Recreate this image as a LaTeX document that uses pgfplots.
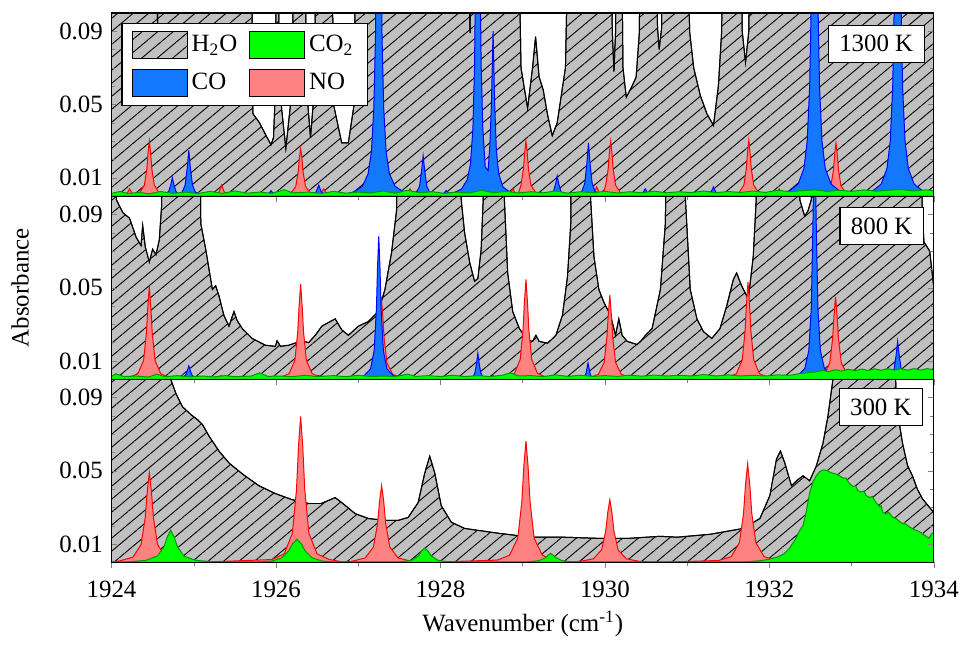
\documentclass[border=0pt]{standalone}
\usepackage{fontspec}
\setmainfont{Liberation Serif}
\usepackage{pgfplots}
\pgfplotsset{compat=1.18}
\usepgfplotslibrary{groupplots}
\usetikzlibrary{patterns.meta,calc}

\definecolor{h2ogray}{RGB}{192,192,192}
\definecolor{co2fill}{RGB}{0,255,0}
\definecolor{co2line}{RGB}{0,150,0}
\definecolor{cofill}{RGB}{20,120,255}
\definecolor{coline}{RGB}{0,0,255}
\definecolor{nofill}{RGB}{255,130,130}
\definecolor{noline}{RGB}{255,0,0}

\tikzset{
  h2o/.style={fill=h2ogray, draw=black, line width=0.5pt,
    postaction={pattern={Lines[angle=40,distance=5pt,line width=0.45pt]}}},
  co2/.style={fill=co2fill, draw=co2line, line width=0.5pt},
  co/.style={fill=cofill, draw=coline, line width=0.5pt},
  no/.style={fill=nofill, draw=noline, line width=0.5pt},
}

\begin{document}
\fontsize{12.5}{15}\selectfont
\begin{tikzpicture}
\begin{groupplot}[
  group style={group size=1 by 3, vertical sep=0pt, group name=G,
    xticklabels at=edge bottom},
  width=413pt, height=92pt, scale only axis,
  xmin=1924, xmax=1934, ymin=0, ymax=0.1,
  xtick={1924,1926,1928,1930,1932,1934},
  xticklabels={1924,1926,1928,1930,1932,1934},
  minor xtick={1925,1927,1929,1931,1933},
  ytick={0.01,0.05,0.09}, yticklabels={0.01,0.05,0.09},
  minor ytick={0.02,0.03,0.04,0.06,0.07,0.08},
  tick align=inside, major tick length=3pt, minor tick length=2pt,
  xtick pos=left,
  major x tick style={yshift=-3pt},
  minor x tick style={yshift=-2pt},
  xticklabel style={yshift=-5pt},
  axis on top, no markers,
  axis line style={line width=0.6pt},
  legend image code/.code={\draw[#1] (0pt,-6.75pt) rectangle (27.5pt,6.75pt);},
]

% ---------------- 1300 K ----------------
\nextgroupplot[
  legend columns=2,
  legend cell align=left,
  legend style={at={(0.0121,0.947)}, anchor=north west, draw=black,
    line width=0.6pt, fill=white, inner xsep=5pt, inner ysep=4pt,
    row sep=5pt,
    /tikz/every even column/.append style={column sep=4pt}},
]
\addlegendimage{h2o}
\addlegendentry{H\textsubscript{2}O}
\addlegendimage{co2, draw=black}
\addlegendentry{CO\textsubscript{2}}
\addlegendimage{co, draw=black}
\addlegendentry{CO}
\addlegendimage{no, draw=black}
\addlegendentry{NO}

\addplot[h2o, forget plot] coordinates {
(1924.00,0.2) (1924.54,0.2) (1924.56,0.093) (1924.58,0.2)
(1925.69,0.2) (1925.72,0.045) (1925.80,0.040) (1925.88,0.033) (1925.94,0.028) (1925.97,0.032) (1925.995,0.06) (1926.005,0.2)
(1926.025,0.2) (1926.04,0.06) (1926.12,0.026) (1926.20,0.06) (1926.22,0.2)
(1926.35,0.2) (1926.37,0.06) (1926.42,0.032) (1926.47,0.06) (1926.49,0.2)
(1926.67,0.2) (1926.70,0.05) (1926.80,0.029) (1926.88,0.029) (1926.95,0.05) (1926.98,0.2)
(1928.31,0.2) (1928.36,0.089) (1928.40,0.2)
(1928.93,0.2) (1928.98,0.07) (1929.06,0.048) (1929.12,0.07) (1929.157,0.087) (1929.20,0.065) (1929.25,0.058) (1929.30,0.045) (1929.36,0.033) (1929.42,0.04) (1929.52,0.07) (1929.58,0.2)
(1930.07,0.2) (1930.09,0.09) (1930.11,0.068) (1930.13,0.09) (1930.15,0.2)
(1930.19,0.2) (1930.22,0.07) (1930.26,0.054) (1930.33,0.06) (1930.38,0.065) (1930.42,0.09) (1930.43,0.2)
(1930.61,0.2) (1930.64,0.092) (1930.66,0.08) (1930.69,0.092) (1930.71,0.2)
(1931.00,0.2) (1931.03,0.09) (1931.08,0.07) (1931.16,0.055) (1931.24,0.045) (1931.32,0.0386) (1931.38,0.06) (1931.42,0.09) (1931.44,0.2)
(1931.64,0.2) (1931.67,0.09) (1931.71,0.073) (1931.75,0.09) (1931.78,0.2) (1934.00,0.2)
} \closedcycle;

\addplot[no, forget plot] coordinates {
(1924.00,0) (1924.12,0) (1924.19,0.0016) (1924.22,0.004) (1924.25,0.0016) (1924.32,0)
(1924.34,0.0018) (1924.40,0.006) (1924.43,0.015) (1924.445,0.024) (1924.46,0.030) (1924.475,0.024) (1924.49,0.015) (1924.52,0.006) (1924.58,0.0018) (1924.68,0)
(1925.24,0) (1925.31,0.0024) (1925.34,0.006) (1925.37,0.0024) (1925.44,0)
(1926.08,0) (1926.18,0.0015) (1926.24,0.0052) (1926.27,0.013) (1926.285,0.021) (1926.30,0.026) (1926.315,0.021) (1926.33,0.013) (1926.36,0.0052) (1926.42,0.0015) (1926.50,0)
(1926.52,0) (1926.55,0.0016) (1926.58,0.004) (1926.61,0.0016) (1926.68,0)
(1927.06,0) (1927.16,0.0015) (1927.22,0.005) (1927.25,0.0125) (1927.265,0.02) (1927.28,0.025) (1927.295,0.02) (1927.31,0.0125) (1927.34,0.005) (1927.40,0.0015) (1927.50,0)
(1927.53,0) (1927.60,0.0016) (1927.63,0.004) (1927.66,0.0016) (1927.73,0)
(1928.80,0) (1928.85,0.0016) (1928.88,0.004) (1928.91,0.0016) (1928.94,0.0005)
(1928.98,0.006) (1929.01,0.015) (1929.025,0.024) (1929.04,0.030) (1929.055,0.024) (1929.07,0.015) (1929.10,0.006) (1929.16,0.0018) (1929.26,0)
(1929.80,0) (1929.87,0.002) (1929.90,0.005) (1929.93,0.002) (1929.96,0.0015)
(1929.99,0.003) (1930.01,0.006) (1930.04,0.015) (1930.055,0.024) (1930.07,0.030) (1930.085,0.024) (1930.10,0.015) (1930.13,0.006) (1930.19,0.0018) (1930.29,0)
(1931.53,0) (1931.63,0.0018) (1931.69,0.006) (1931.72,0.015) (1931.735,0.024) (1931.75,0.0305) (1931.765,0.024) (1931.78,0.015) (1931.81,0.006) (1931.87,0.0018) (1931.97,0)
(1932.02,0) (1932.09,0.0016) (1932.12,0.004) (1932.15,0.0016) (1932.22,0)
(1932.59,0) (1932.69,0.0017) (1932.75,0.0058) (1932.78,0.0145) (1932.795,0.023) (1932.81,0.029) (1932.825,0.023) (1932.84,0.0145) (1932.87,0.0058) (1932.93,0.0017) (1933.03,0)
(1934.00,0)
} \closedcycle;

\addplot[co, forget plot] coordinates {
(1924.00,0) (1924.59,0) (1924.66,0.0009) (1924.695,0.0024) (1924.72,0.006) (1924.74,0.010) (1924.76,0.006) (1924.785,0.0024) (1924.82,0.0009)
(1924.86,0.0022) (1924.895,0.006) (1924.92,0.015) (1924.94,0.025) (1924.96,0.015) (1924.985,0.006) (1925.02,0.0022) (1925.09,0.0008) (1925.20,0)
(1925.86,0) (1925.91,0.0012) (1925.94,0.003) (1925.97,0.0012) (1926.02,0)
(1926.43,0) (1926.49,0.0024) (1926.52,0.006) (1926.55,0.0024) (1926.61,0)
(1926.85,0.001) (1926.95,0.0024) (1927.05,0.0053) (1927.12,0.0121) (1927.16,0.024) (1927.19,0.048) (1927.21,0.0864) (1927.23,0.166) (1927.25,0.24) (1927.27,0.166) (1927.29,0.0864) (1927.31,0.048) (1927.34,0.024) (1927.38,0.0121) (1927.45,0.0053) (1927.55,0.0024) (1927.65,0.0012)
(1927.71,0.002) (1927.745,0.0053) (1927.77,0.0134) (1927.79,0.022) (1927.81,0.0134) (1927.835,0.0053) (1927.87,0.002)
(1927.95,0.001) (1928.04,0.0015) (1928.07,0.003) (1928.10,0.0018)
(1928.155,0.0017) (1928.255,0.0038) (1928.325,0.0089) (1928.365,0.0174) (1928.395,0.037) (1928.415,0.072) (1928.435,0.152) (1928.455,0.25) (1928.475,0.152) (1928.495,0.072) (1928.515,0.037) (1928.545,0.016) (1928.58,0.014)
(1928.60,0.027) (1928.62,0.05) (1928.64,0.09) (1928.66,0.05) (1928.68,0.025) (1928.71,0.012) (1928.76,0.005) (1928.85,0.002) (1928.95,0.0008) (1929.05,0)
(1929.30,0) (1929.34,0.001) (1929.375,0.0026) (1929.40,0.0066) (1929.42,0.011) (1929.44,0.0066) (1929.465,0.0026) (1929.50,0.001) (1929.58,0)
(1929.65,0) (1929.72,0.0026) (1929.755,0.007) (1929.78,0.0175) (1929.80,0.029) (1929.82,0.0175) (1929.845,0.007) (1929.88,0.0026) (1929.95,0.0009) (1930.05,0)
(1930.40,0) (1930.46,0.0016) (1930.49,0.004) (1930.52,0.0016) (1930.58,0)
(1931.23,0) (1931.29,0.002) (1931.32,0.005) (1931.35,0.002) (1931.41,0)
(1932.15,0.001) (1932.25,0.003) (1932.35,0.0066) (1932.42,0.0151) (1932.46,0.03) (1932.49,0.06) (1932.51,0.108) (1932.53,0.2077) (1932.55,0.3) (1932.57,0.2077) (1932.59,0.108) (1932.61,0.06) (1932.64,0.03) (1932.68,0.0151) (1932.75,0.0066) (1932.85,0.003) (1932.95,0.001) (1933.05,0.0005)
(1933.16,0.0015) (1933.26,0.003) (1933.36,0.0066) (1933.43,0.0151) (1933.47,0.03) (1933.50,0.06) (1933.52,0.108) (1933.54,0.2077) (1933.56,0.3) (1933.58,0.2077) (1933.60,0.108) (1933.62,0.06) (1933.65,0.03) (1933.69,0.0151) (1933.76,0.0066) (1933.86,0.003) (1933.96,0.001) (1934.00,0)
} \closedcycle;

\addplot[co2, forget plot] coordinates {
(1924,0.0015) (1924.1,0.0025) (1924.2,0.0015) (1924.35,0.002) (1924.45,0.0012) (1924.6,0.0025) (1924.75,0.0015) (1924.9,0.0022) (1925.05,0.0014) (1925.2,0.0026) (1925.35,0.0015) (1925.5,0.0028) (1925.65,0.0016) (1925.8,0.0022) (1925.95,0.0015) (1926.1,0.0035) (1926.2,0.0018) (1926.4,0.0022) (1926.55,0.0014) (1926.7,0.0026) (1926.85,0.0016) (1927.0,0.0022) (1927.15,0.0017) (1927.3,0.0028) (1927.45,0.0016) (1927.6,0.0032) (1927.75,0.0018) (1927.9,0.0024) (1928.05,0.0015) (1928.2,0.0022) (1928.35,0.0017) (1928.5,0.0032) (1928.65,0.0018) (1928.8,0.0026) (1928.95,0.0017) (1929.1,0.0024) (1929.25,0.0018) (1929.4,0.0028) (1929.55,0.0016) (1929.7,0.0024) (1929.85,0.0018) (1930.0,0.0026) (1930.15,0.0017) (1930.3,0.0024) (1930.45,0.0018) (1930.6,0.0027) (1930.75,0.0018) (1930.9,0.0024) (1931.05,0.0019) (1931.2,0.0028) (1931.35,0.0019) (1931.5,0.0025) (1931.65,0.002) (1931.8,0.0028) (1931.95,0.002) (1932.1,0.0032) (1932.25,0.0024) (1932.4,0.003) (1932.55,0.0034) (1932.7,0.0026) (1932.85,0.0032) (1933.0,0.0026) (1933.15,0.0034) (1933.3,0.0027) (1933.45,0.0032) (1933.6,0.0036) (1933.75,0.0028) (1933.9,0.0034) (1934,0.003)
} \closedcycle;

\node[draw=black, fill=white, line width=0.6pt, anchor=north east, inner xsep=5.5pt, inner ysep=5pt]
  at (rel axis cs:0.989,0.935) {1300 K};

% ---------------- 800 K ----------------
\nextgroupplot[ylabel={Absorbance},
  ylabel style={at={(axis description cs:-0.111,0.5)}, anchor=center}]

\addplot[h2o, forget plot] coordinates {
(1924.0,0.2) (1924.04,0.2) (1924.06,0.098) (1924.137,0.091) (1924.218,0.088) (1924.258,0.083) (1924.299,0.0776) (1924.359,0.073) (1924.379,0.084) (1924.412,0.072) (1924.46,0.064) (1924.50,0.071) (1924.541,0.068) (1924.581,0.076) (1924.61,0.095) (1924.625,0.2)
(1925.06,0.2) (1925.086,0.085) (1925.146,0.071) (1925.186,0.060) (1925.227,0.049) (1925.267,0.051) (1925.307,0.0455) (1925.368,0.0347) (1925.429,0.029) (1925.489,0.037) (1925.529,0.032) (1925.59,0.0277) (1925.711,0.0223) (1925.872,0.0186) (1925.993,0.018) (1926.013,0.021) (1926.054,0.018) (1926.155,0.0186) (1926.316,0.021) (1926.397,0.020) (1926.478,0.024) (1926.558,0.029) (1926.72,0.033) (1926.80,0.027) (1926.881,0.024) (1927.002,0.029) (1927.123,0.0315) (1927.245,0.037) (1927.325,0.049) (1927.405,0.069) (1927.466,0.092) (1927.50,0.2)
(1928.24,0.2) (1928.253,0.098) (1928.294,0.080) (1928.355,0.064) (1928.415,0.0535) (1928.455,0.055) (1928.495,0.0707) (1928.52,0.098) (1928.53,0.2)
(1928.77,0.2) (1928.778,0.098) (1928.818,0.058) (1928.879,0.037) (1928.96,0.0277) (1929.06,0.0213) (1929.12,0.0207) (1929.161,0.024) (1929.20,0.0207) (1929.303,0.0197) (1929.404,0.024) (1929.484,0.035) (1929.545,0.056) (1929.585,0.085) (1929.60,0.2)
(1929.82,0.2) (1929.827,0.098) (1929.867,0.067) (1929.927,0.049) (1929.988,0.042) (1930.068,0.035) (1930.129,0.024) (1930.169,0.033) (1930.21,0.024) (1930.271,0.0207) (1930.392,0.019) (1930.44,0.021) (1930.493,0.024) (1930.574,0.0277) (1930.675,0.049) (1930.735,0.085) (1930.77,0.2)
(1930.97,0.2) (1930.98,0.098) (1931.038,0.049) (1931.119,0.033) (1931.199,0.026) (1931.30,0.0223) (1931.40,0.0277) (1931.481,0.040) (1931.562,0.0545) (1931.602,0.058) (1931.663,0.051) (1931.744,0.0438) (1931.804,0.067) (1931.84,0.098) (1931.85,0.2)
(1932.36,0.2) (1932.37,0.098) (1932.43,0.089) (1932.47,0.092) (1932.51,0.098) (1932.52,0.2)
(1933.84,0.2) (1933.86,0.09) (1933.88,0.075) (1933.95,0.07) (1934.0,0.05)
} \closedcycle;

\addplot[no, forget plot] coordinates {
(1924.00,0) (1924.21,0.001) (1924.32,0.003) (1924.39,0.0102) (1924.425,0.0255) (1924.44,0.038) (1924.46,0.051) (1924.48,0.038) (1924.495,0.0255) (1924.53,0.0102) (1924.60,0.003) (1924.71,0.001) (1924.85,0)
(1925.25,0) (1925.33,0.002) (1925.41,0)
(1926.05,0.001) (1926.16,0.0031) (1926.23,0.0104) (1926.265,0.026) (1926.28,0.039) (1926.30,0.052) (1926.32,0.039) (1926.335,0.026) (1926.37,0.0104) (1926.44,0.0031) (1926.55,0.001) (1926.70,0)
(1927.03,0.0009) (1927.14,0.0027) (1927.21,0.009) (1927.245,0.0225) (1927.26,0.034) (1927.28,0.045) (1927.30,0.034) (1927.315,0.0225) (1927.35,0.009) (1927.42,0.0027) (1927.53,0.0009) (1927.68,0)
(1928.79,0.001) (1928.90,0.0032) (1928.97,0.0109) (1929.005,0.0273) (1929.02,0.041) (1929.04,0.0545) (1929.06,0.041) (1929.075,0.0273) (1929.11,0.0109) (1929.18,0.0032) (1929.29,0.001) (1929.45,0)
(1929.81,0.0009) (1929.92,0.0027) (1929.99,0.0092) (1930.025,0.023) (1930.04,0.0345) (1930.06,0.046) (1930.08,0.0345) (1930.095,0.023) (1930.13,0.0092) (1930.20,0.0027) (1930.31,0.0009) (1930.45,0)
(1931.49,0.001) (1931.60,0.0031) (1931.67,0.0106) (1931.705,0.0265) (1931.72,0.04) (1931.74,0.053) (1931.76,0.04) (1931.775,0.0265) (1931.81,0.0106) (1931.88,0.0031) (1931.99,0.001) (1932.15,0)
(1932.555,0.0009) (1932.665,0.0027) (1932.735,0.009) (1932.77,0.0225) (1932.785,0.034) (1932.805,0.045) (1932.825,0.034) (1932.84,0.0225) (1932.875,0.009) (1932.945,0.0027) (1933.055,0.0009) (1933.20,0)
(1934.00,0)
} \closedcycle;

\addplot[co, forget plot] coordinates {
(1924.00,0) (1924.84,0) (1924.90,0.0022) (1924.92,0.0045) (1924.94,0.0073) (1924.96,0.0045) (1924.98,0.0022) (1925.04,0)
(1926.46,0) (1926.52,0.002) (1926.58,0)
(1926.95,0.0007) (1927.07,0.0019) (1927.15,0.0057) (1927.194,0.0156) (1927.222,0.039) (1927.235,0.061) (1927.25,0.078) (1927.265,0.061) (1927.278,0.039) (1927.306,0.0156) (1927.35,0.0057) (1927.43,0.0019) (1927.55,0.0007) (1927.65,0)
(1928.35,0) (1928.395,0.0013) (1928.42,0.0036) (1928.44,0.009) (1928.455,0.0143) (1928.47,0.009) (1928.49,0.0036) (1928.515,0.0013) (1928.56,0)
(1928.60,0) (1928.64,0.002) (1928.68,0)
(1929.70,0) (1929.74,0.0008) (1929.765,0.0022) (1929.78,0.0055) (1929.795,0.0089) (1929.81,0.0055) (1929.825,0.0022) (1929.85,0.0008) (1929.89,0)
(1931.27,0) (1931.32,0.002) (1931.37,0)
(1932.25,0.001) (1932.35,0.0022) (1932.43,0.0058) (1932.48,0.0158) (1932.51,0.039) (1932.53,0.085) (1932.55,0.14) (1932.57,0.085) (1932.59,0.039) (1932.62,0.0158) (1932.67,0.0058) (1932.75,0.0022) (1932.85,0.001) (1932.95,0)
(1933.44,0) (1933.48,0.0019) (1933.515,0.005) (1933.54,0.0126) (1933.56,0.0207) (1933.58,0.0126) (1933.605,0.005) (1933.64,0.0019) (1933.70,0)
(1934.00,0)
} \closedcycle;

\addplot[co2, forget plot] coordinates {
(1924,0.0015) (1924.05,0.003) (1924.15,0.0015) (1924.3,0.0018) (1924.45,0.0012) (1924.55,0.0028) (1924.65,0.0014) (1924.8,0.002) (1924.95,0.0013) (1925.1,0.0018) (1925.25,0.0013) (1925.38,0.002) (1925.5,0.0014) (1925.7,0.0018) (1925.8,0.0035) (1925.9,0.0016) (1926.05,0.0018) (1926.2,0.0014) (1926.35,0.0022) (1926.5,0.0015) (1926.7,0.002) (1926.85,0.0014) (1927.0,0.0022) (1927.15,0.0015) (1927.3,0.0018) (1927.45,0.0015) (1927.6,0.0028) (1927.7,0.0016) (1927.85,0.002) (1928.0,0.0015) (1928.15,0.0022) (1928.3,0.0015) (1928.45,0.002) (1928.6,0.0015) (1928.75,0.0022) (1928.85,0.0035) (1928.95,0.0018) (1929.1,0.002) (1929.25,0.0015) (1929.4,0.0024) (1929.55,0.0016) (1929.7,0.0022) (1929.85,0.0016) (1930.0,0.002) (1930.15,0.0016) (1930.3,0.0022) (1930.45,0.0017) (1930.6,0.0023) (1930.75,0.0018) (1930.9,0.0022) (1931.05,0.0018) (1931.2,0.0026) (1931.35,0.0018) (1931.5,0.0024) (1931.65,0.0018) (1931.8,0.0022) (1931.95,0.0018) (1932.1,0.0024) (1932.25,0.0022) (1932.35,0.003) (1932.45,0.0035) (1932.55,0.004) (1932.65,0.0048) (1932.72,0.0042) (1932.8,0.0052) (1932.88,0.0045) (1932.96,0.0055) (1933.04,0.0047) (1933.12,0.0056) (1933.2,0.0048) (1933.28,0.0057) (1933.36,0.0049) (1933.44,0.0058) (1933.52,0.005) (1933.6,0.0058) (1933.68,0.005) (1933.76,0.0058) (1933.84,0.005) (1933.92,0.0058) (1934,0.0052)
} \closedcycle;

\node[draw=black, fill=white, line width=0.6pt, anchor=north east, inner xsep=5.5pt, inner ysep=5pt]
  at (rel axis cs:0.988,0.94) {800 K};

% ---------------- 300 K ----------------
\nextgroupplot[xlabel={Wavenumber (cm\textsuperscript{-1})},
  xlabel style={at={(axis description cs:0.5,-0.335)}, anchor=center}]

\addplot[h2o, forget plot] coordinates {
(1924,0.2) (1924.70,0.2) (1924.72,0.1) (1924.783,0.0923) (1924.863,0.085) (1924.964,0.0808) (1925.045,0.078) (1925.105,0.0754) (1925.186,0.069) (1925.307,0.0608) (1925.429,0.0543) (1925.59,0.0484) (1925.792,0.0419) (1925.994,0.0376) (1926.195,0.0343) (1926.397,0.0322) (1926.55,0.0322) (1926.72,0.0354) (1926.80,0.0327) (1926.962,0.0267) (1927.123,0.024) (1927.325,0.023) (1927.487,0.023) (1927.608,0.0246) (1927.729,0.0327) (1927.81,0.0489) (1927.87,0.058) (1927.93,0.049) (1928.01,0.031) (1928.132,0.022) (1928.294,0.0186) (1928.697,0.016) (1929.10,0.0138) (1929.504,0.0138) (1929.908,0.0132) (1930.3,0.0132) (1930.675,0.0143) (1930.877,0.0138) (1931.28,0.0154) (1931.684,0.0186) (1931.885,0.024) (1932.006,0.0365) (1932.087,0.0565) (1932.135,0.0608) (1932.188,0.0543) (1932.269,0.0419) (1932.34,0.045) (1932.41,0.0473) (1932.49,0.0446) (1932.571,0.0527) (1932.652,0.0651) (1932.712,0.0797) (1932.773,0.1) (1932.79,0.2) (1933.51,0.2) (1933.54,0.087) (1933.62,0.065) (1933.68,0.053) (1933.74,0.0473) (1933.80,0.04) (1933.86,0.0349) (1933.93,0.031) (1934.0,0.0273)
} \closedcycle;

\addplot[no, forget plot] coordinates {
(1924.00,0) (1924.11,0.001) (1924.26,0.0029) (1924.36,0.0098) (1924.41,0.0245) (1924.435,0.039) (1924.46,0.049) (1924.485,0.039) (1924.51,0.0245) (1924.56,0.0098) (1924.66,0.0029) (1924.81,0.001) (1925.00,0)
(1925.95,0.0016) (1926.10,0.0047) (1926.20,0.016) (1926.25,0.04) (1926.275,0.064) (1926.30,0.0797) (1926.325,0.064) (1926.35,0.04) (1926.40,0.016) (1926.50,0.0047) (1926.65,0.0016) (1926.85,0)
(1926.935,0.0008) (1927.085,0.0025) (1927.185,0.0084) (1927.235,0.021) (1927.26,0.0335) (1927.285,0.0419) (1927.31,0.0335) (1927.335,0.021) (1927.385,0.0084) (1927.485,0.0025) (1927.635,0.0008) (1927.80,0)
(1928.69,0.0013) (1928.84,0.0039) (1928.94,0.0132) (1928.99,0.0331) (1929.015,0.053) (1929.04,0.0662) (1929.065,0.053) (1929.09,0.0331) (1929.14,0.0132) (1929.24,0.0039) (1929.39,0.0013) (1929.55,0)
(1929.71,0.0007) (1929.86,0.002) (1929.96,0.0069) (1930.01,0.0172) (1930.035,0.0274) (1930.06,0.0343) (1930.085,0.0274) (1930.11,0.0172) (1930.16,0.0069) (1930.26,0.002) (1930.41,0.0007) (1930.60,0)
(1931.386,0.0011) (1931.536,0.0032) (1931.636,0.0108) (1931.686,0.0269) (1931.711,0.043) (1931.736,0.0538) (1931.761,0.043) (1931.786,0.0269) (1931.836,0.0108) (1931.936,0.0032) (1932.086,0.0011) (1932.25,0)
(1934.00,0)
} \closedcycle;

\addplot[co2, forget plot] coordinates {
(1924.00,0.0003) (1924.22,0.0004) (1924.42,0.0012) (1924.56,0.0035) (1924.64,0.0088) (1924.68,0.0141) (1924.72,0.0176) (1924.76,0.0141) (1924.80,0.0088) (1924.88,0.0035) (1925.02,0.0012) (1925.22,0.0004)
(1925.80,0.0003) (1925.95,0.0008) (1926.07,0.0025) (1926.155,0.0063) (1926.20,0.0101) (1926.255,0.0127) (1926.31,0.0101) (1926.355,0.0063) (1926.44,0.0025) (1926.56,0.0008) (1926.70,0.0003)
(1927.50,0.0003) (1927.65,0.0012) (1927.73,0.0035) (1927.77,0.0062) (1927.81,0.0078) (1927.85,0.0062) (1927.89,0.0035) (1927.97,0.0012) (1928.10,0.0003)
(1929.05,0.0003) (1929.20,0.001) (1929.28,0.0028) (1929.34,0.005) (1929.40,0.0028) (1929.48,0.001) (1929.60,0.0003)
(1931.70,0.0003) (1931.90,0.001) (1932.00,0.0018) (1932.10,0.003) (1932.18,0.0048) (1932.245,0.0078) (1932.32,0.013) (1932.37,0.0175) (1932.41,0.0203) (1932.45,0.028) (1932.49,0.038) (1932.53,0.044) (1932.571,0.0473) (1932.61,0.0495) (1932.652,0.0505) (1932.70,0.0503) (1932.75,0.049) (1932.80,0.0485) (1932.853,0.0473) (1932.90,0.046) (1932.93,0.0462) (1932.975,0.043) (1933.02,0.0415) (1933.05,0.0418) (1933.076,0.0392) (1933.12,0.0385) (1933.15,0.039) (1933.177,0.0365) (1933.22,0.0355) (1933.25,0.036) (1933.298,0.0327) (1933.34,0.0305) (1933.36,0.031) (1933.379,0.0273) (1933.42,0.0265) (1933.45,0.0275) (1933.49,0.025) (1933.54,0.024) (1933.58,0.0225) (1933.62,0.0213) (1933.66,0.021) (1933.70,0.0195) (1933.74,0.0185) (1933.78,0.0176) (1933.82,0.017) (1933.86,0.0158) (1933.90,0.0145) (1933.94,0.0132) (1933.97,0.0155) (1934.00,0.0165)
} \closedcycle;

\node[draw=black, fill=white, line width=0.6pt, anchor=north east, inner xsep=5.5pt, inner ysep=5pt]
  at (rel axis cs:0.987,0.951) {300 K};
\end{groupplot}
\path ($(G c1r3.south west)+(-56pt,-36pt)$) rectangle ($(G c1r1.north east)+(14.5pt,6.5pt)$);
\end{tikzpicture}
\end{document}
